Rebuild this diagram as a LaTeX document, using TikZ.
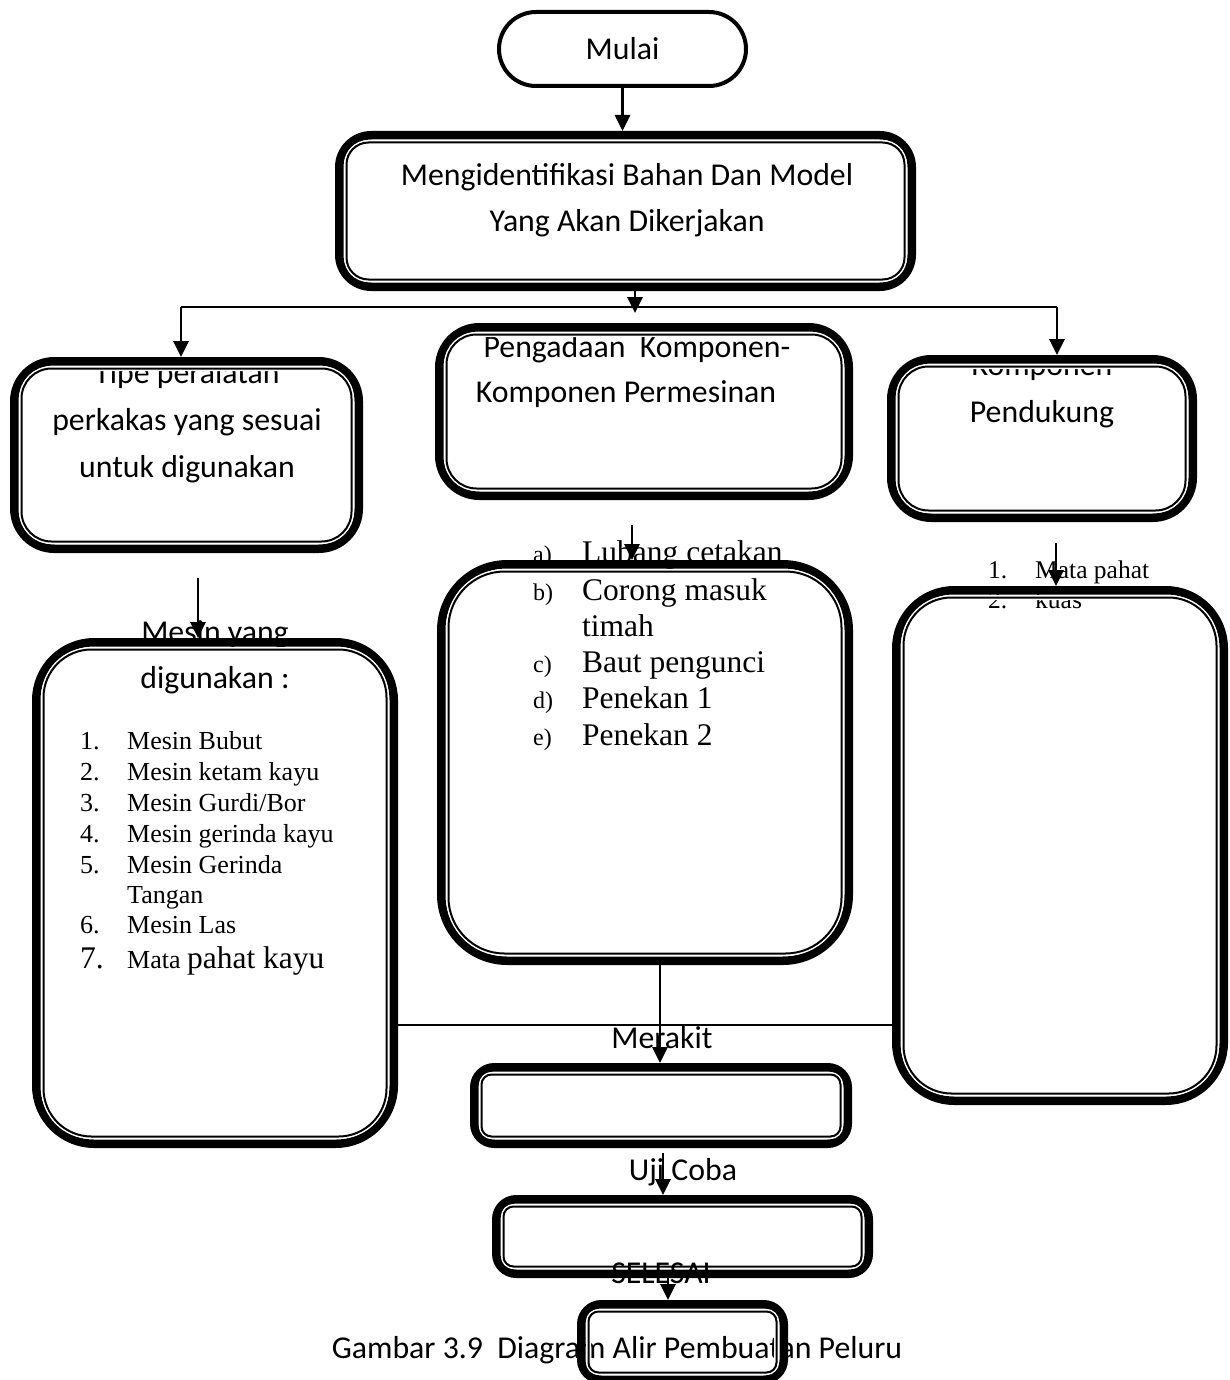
\documentclass[tikz,border=0pt]{standalone}
\usepackage{fontspec}
\setmainfont{Liberation Serif}
\newfontfamily\carl{Carlito}
\usetikzlibrary{arrows.meta,calc}
\newcommand\hdfont{\carl\fontsize{31.8}{46}\selectfont}
\newcommand\lifont{\fontsize{26}{30}\selectfont}
\newcommand\bigli{\fontsize{31.5}{36}\selectfont}
\newcommand\smli{\fontsize{24}{28}\selectfont}
\newcommand\rtfont{\fontsize{25.5}{30}\selectfont}
\tikzset{
  obox/.style={draw, line width=8.5pt, outer sep=4.25pt, inner sep=0pt},
  iband/.style={draw, line width=2pt, preaction={draw=white, line width=5pt}},
  hd/.style={font=\hdfont, inner sep=0pt, anchor=base},
  li/.style={font=\lifont, inner sep=0pt, anchor=base west},
  arr/.style={line width=2.8pt, -{Triangle[length=16pt,width=15pt]}},
  ln/.style={line width=2pt}
}
% name, x1, y1, x2, y2, radius (outer edges)
\newcommand\dbox[6]{%
  \pgfmathsetmacro\bw{#4-#2-8.5}\pgfmathsetmacro\bh{#5-#3-8.5}%
  \pgfmathsetmacro\ri{max(#6-10,3)}%
  \node[obox, rounded corners=#6pt, minimum width=\bw pt, minimum height=\bh pt] (#1) at ({(#2+#4)/2},{(#3+#5)/2}) {};
  \draw[iband, rounded corners=\ri pt] ([shift={(11.5pt,-11.5pt)}]#1.north west) rectangle ([shift={(-11.5pt,11.5pt)}]#1.south east);
}
\begin{document}
\begin{tikzpicture}[x=1pt,y=-1pt]
\useasboundingbox (0,0) rectangle (1230,1380);
\fill[white] (0,0) rectangle (1230,1380);
\clip (0,0) rectangle (1230,1380);

% ---------- texts ----------
\node[hd] (t1a) at (627,186) {Mengidentifikasi Bahan Dan Model};
\node[hd] (t1b) at (627,232) {Yang Akan Dikerjakan};
\begin{scope}
  \clip (22,368) rectangle (351,545);
  \node[hd] (t2a) at (187,383) {Tipe peralatan};
\end{scope}
\node[hd] (t2b) at (187,430) {perkakas yang sesuai};
\node[hd] (t2c) at (187,477) {untuk digunakan};
\node[hd] (t3a) at (637,357) {Pengadaan\ \ Komponen-};
\node[hd] (t3b) at (626,402) {Komponen Permesinan};
\begin{scope}
  \clip (899,366) rectangle (1185,510);
  \node[hd] (t4a) at (1042,375) {Komponen};
\end{scope}
\node[hd] (t4b) at (1042,422) {Pendukung};

\node[hd] (t5a) at (215,642) {Mesin yang};
\node[hd] (t5b) at (215,688) {digunakan :};
\foreach \n/\y/\t in {1/749/{Mesin Bubut},2/780/{Mesin ketam kayu},3/811/{Mesin Gurdi/Bor},4/842/{Mesin gerinda kayu},5/873/{Mesin Gerinda},6/933/{Mesin Las}}{
  \node[li] (ln\n) at (80,\y) {\n.};
  \node[li] (lt\n) at (127,\y) {\t};
}
\node[li] (lt5b) at (127,903) {Tangan};
\node[li, font=\bigli] (ln7) at (80,968) {7.};
\node[li] (lt7) at (127,968) {Mata {\bigli pahat kayu}};

\foreach \n/\y/\t in {a/562/{Lubang cetakan},b/600/{Corong masuk},c/672/{Baut pengunci},d/708/{Penekan 1},e/745/{Penekan 2}}{
  \node[li, font=\smli] (mn\n) at (533,\y) {\n)};
  \node[li, font=\bigli] (mt\n) at (582,\y) {\t};
}
\node[li, font=\bigli] (mtb2) at (582,636) {timah};

\node[li, font=\rtfont] (rn1) at (988,578) {1.};
\node[li, font=\rtfont] (rt1) at (1035,578) {Mata pahat};
\node[li, font=\rtfont] (rn2) at (988,608) {2.};
\node[li, font=\rtfont] (rt2) at (1035,608) {kuas};

\node[hd] (tm) at (662,1048) {Merakit};
\node[hd] (tu) at (683,1180) {Uji Coba};
\node[hd] (cap) at (617,1358) {Gambar 3.9\ \ Diagram Alir Pembuatan Peluru};

% ---------- boxes ----------
\node[draw, line width=4pt, outer sep=2pt, rounded corners=37pt, minimum width=247pt, minimum height=74pt, font=\hdfont] (mulai) at (622.5,49) {Mulai};
\dbox{ident}{335}{131}{916}{291}{32}
\dbox{tipe}{10}{357}{363}{553}{40}
\dbox{peng}{435}{323}{853}{500}{40}
\dbox{komp}{887}{355}{1197}{522}{40}
\dbox{mesin}{32}{638}{398}{1148}{58}
\dbox{mlist}{437}{560}{853}{965}{66}
\dbox{rlist}{892}{586}{1228}{1105}{58}
\dbox{merakit}{470}{1063}{852}{1148}{20}
\dbox{uji}{492}{1195}{873}{1278}{20}
\dbox{sel}{577}{1300}{788}{1384}{20}

\node[hd] (ts) at (661,1283) {SELESAI};

% ---------- connectors ----------
\coordinate (hl) at (181,307);
\coordinate (hr) at (1057,307);
\coordinate (jm) at (635,313);
\coordinate (a1) at (198,578);
\coordinate (a2) at (632,525);
\coordinate (a3) at (1056,543);
\coordinate (a4) at (660,965);
\coordinate (hy) at (0,1025);
\coordinate (a5) at (663,1153);
\coordinate (a6) at (668,1274);

\draw[arr] (mulai.south) -- (mulai.south |- ident.north);
\draw[ln] (hl) -- (hr);
\draw[arr] (ident.south -| jm) -- (jm);
\draw[arr] (hl) -- (hl |- tipe.north);
\draw[arr] (hr) -- (hr |- komp.north);
\draw[arr] (a1) -- (a1 |- mesin.north);
\draw[arr] (a2) -- (a2 |- mlist.north);
\draw[arr] (a3) -- (a3 |- rlist.north);
\draw[arr] (mlist.south -| a4) -- (a4 |- merakit.north);
\draw[ln] (mesin.east |- hy) -- (rlist.west |- hy);
\draw[arr] (a5) -- (a5 |- uji.north);
\draw[arr] (a6) -- (a6 |- sel.north);
\end{tikzpicture}
\end{document}
